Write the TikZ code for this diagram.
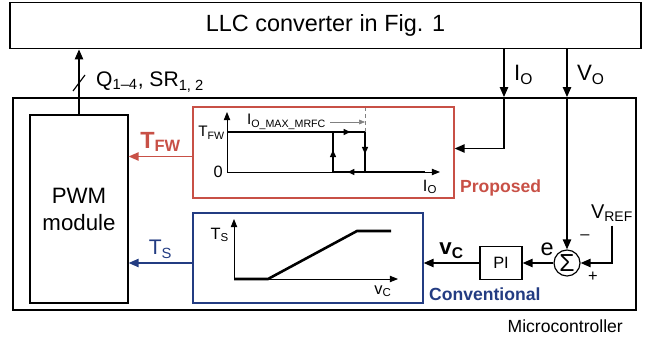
\documentclass[tikz,border=0pt]{standalone}
\usepackage{fontspec}
\setmainfont{Liberation Sans}
\usetikzlibrary{arrows.meta, positioning, calc, decorations.markings}
\definecolor{propred}{RGB}{200,80,70}
\definecolor{convblue}{RGB}{35,60,130}

\begin{document}
\begin{tikzpicture}[x=0.03cm, y=-0.03cm,
    arr/.style={-{Triangle[length=8.5pt,width=7pt]}, line width=1.4pt},
    ax/.style={-{Triangle[length=7pt,width=5.5pt]}, line width=0.7pt},
    hyst/.style={line width=2.2pt},
    midarr/.style={postaction={decorate}, decoration={markings, mark=at position 0.55 with {\arrow{Triangle[length=6pt,width=5pt]}}}},
    blk/.style={rectangle, draw, line width=1pt, inner sep=0pt},
    lbl/.style={font=\fontsize{19}{22}\selectfont},
    plbl/.style={font=\fontsize{13}{15}\selectfont},
]
\useasboundingbox (0,0) rectangle (652,342);

% Blocks
\node[blk, line width=1.5pt, minimum width=18.93cm, minimum height=1.38cm, font=\fontsize{20}{24}\selectfont] (llc) at (325.5,25.5) {LLC converter in Fig. 1};
\node[blk, line width=1.5pt, minimum width=18.69cm, minimum height=6.36cm] (mcu) at (324.5,204) {};
\node[blk, minimum width=2.94cm, minimum height=5.64cm, align=center, font=\fontsize{19}{23}\selectfont] (pwm) at (79,209) {PWM\\module};
\node[blk, draw=propred, minimum width=7.83cm, minimum height=2.73cm] (prop) at (323.5,152.5) {};
\node[blk, draw=convblue, minimum width=6.9cm, minimum height=2.7cm] (conv) at (308,258) {};
\node[blk, minimum width=1.26cm, minimum height=0.99cm, font=\fontsize{14}{16}\selectfont] (pi) at (501,263) {PI};
\node[circle, draw, line width=1pt, minimum size=0.78cm, inner sep=0pt, font=\fontsize{21}{23}\selectfont] (sum) at (567,263) {Σ};

\node[font=\fontsize{15}{18}\selectfont, anchor=east] (mcuname) at (627,326) {Microcontroller};
\node[font=\fontsize{15}{18}\selectfont\bfseries, text=propred, anchor=west] (propname) at (456,188) {Proposed};
\node[font=\fontsize{15}{18}\selectfont\bfseries, text=convblue, anchor=west] (convname) at (425,294) {Conventional};

% Gate signals
\coordinate (qx) at (79,83);
\draw[arr] (pwm.north) -- (pwm.north |- llc.south);
\draw[line width=1pt] ($(qx)+(-6,8)$) -- ($(qx)+(6,-8)$);
\node[anchor=west, font=\fontsize{18}{21}\selectfont] (qlbl) at (92,82) {Q\textsubscript{1--4}, SR\textsubscript{1, 2}};

% Sensed signals
\coordinate (ix) at (504,0);
\coordinate (vx) at (567,0);
\draw[arr] (ix |- llc.south) -- (ix |- mcu.north);
\node[lbl, anchor=west] (iolbl) at (510,75) {I\textsubscript{O}};
\draw[arr] (ix |- mcu.north) |- ($(prop.east)+(0,-4)$);
\draw[arr] (vx |- llc.south) -- (vx |- mcu.north);
\node[lbl, anchor=west] (volbl) at (573,75) {V\textsubscript{O}};
\draw[arr] (vx |- mcu.north) -- (sum.north);

% Voltage loop
\node[font=\fontsize{17}{20}\selectfont] (vref) at (612,213) {V\textsubscript{REF}};
\draw[arr] (vref.south) |- (sum.east);
\node[font=\fontsize{14}{16}\selectfont] (minus) at (585,237) {--};
\node[font=\fontsize{14}{16}\selectfont] (plus) at (593,277) {+};
\draw[arr] (sum.west) -- node[above, pos=0.2, yshift=2pt, font=\fontsize{20}{22}\selectfont] (elbl) {e} (pi.east);
\draw[arr] (pi.west) -- node[above, font=\fontsize{19}{22}\selectfont\bfseries] (vclbl) {v\textsubscript{C}} (conv.east |- pi.west);

% Outputs to PWM
\coordinate (tfwstart) at ($(prop.west)+(0,4)$);
\coordinate (tsstart) at ($(conv.west)+(0,5)$);
\draw[arr, propred] (tfwstart) -- node[above, font=\fontsize{20}{22}\selectfont\bfseries] (tfwlbl) {T\textsubscript{FW}} (tfwstart -| pwm.east);
\draw[arr, convblue] (tsstart) -- node[above, font=\fontsize{18}{21}\selectfont] (tslbl) {T\textsubscript{S}} (tsstart -| pwm.east);

% Proposed curve
\draw[ax] (227,172) -- (227,112);
\draw[ax] (227,172) -- (440,172);
\node[plbl, anchor=east] (tfwax) at (229,133) {T\textsubscript{FW}};
\node[plbl, anchor=east, font=\fontsize{14}{16}\selectfont] (zero) at (227,172) {0};
\node[plbl, font=\fontsize{14}{16}\selectfont] (ioax) at (430,187) {I\textsubscript{O}};
\coordinate (imx) at (365,132);
\draw[gray, dashed, line width=0.5pt] (imx) -- (365,108);
\node[plbl, anchor=west] (imax) at (243,122) {I\textsubscript{O\_MAX\_MRFC}};
\draw[gray, -{Triangle[length=5pt,width=4pt]}, line width=0.5pt] (imax.east) -- (imax.east -| imx);
\draw[hyst] (227,132) -- (333,132);
\draw[hyst, midarr] (333,132) -- (365,132);
\draw[hyst, midarr] (365,132) -- (365,172);
\draw[hyst, midarr] (365,172) -- (333,172);
\draw[hyst, midarr] (333,172) -- (333,132);
\draw[hyst] (365,172) -- (425,172);

% Conventional curve
\draw[ax] (234,279) -- (234,219);
\draw[ax] (234,279) -- (398,279);
\draw[hyst] (234,279) -- (268,279) -- (357,231) -- (391,231);
\node[plbl, anchor=east, font=\fontsize{14}{16}\selectfont] (tsax) at (233,235) {T\textsubscript{S}};
\node[plbl, font=\fontsize{14}{16}\selectfont] (vcax) at (383,291) {v\textsubscript{C}};

\end{tikzpicture}
\end{document}
